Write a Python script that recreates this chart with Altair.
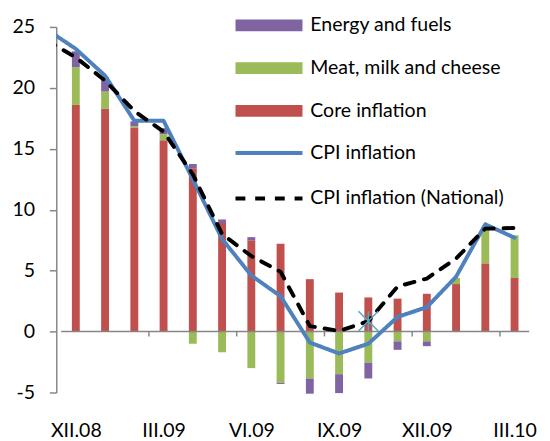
import altair as alt
import pandas as pd

months = ["XII.08", "I.09", "II.09", "III.09", "IV.09", "V.09", "VI.09", "VII.09",
          "VIII.09", "IX.09", "X.09", "XI.09", "XII.09", "I.10", "II.10", "III.10"]
core = [18.6, 18.3, 16.7, 15.7, 13.4, 8.9, 7.5, 7.2, 4.3, 3.2, 2.8, 2.7, 3.1, 3.9, 5.6, 4.4]
meat = [3.1, 1.4, 0.15, 0.5, -1.0, -1.7, -3.0, -4.2, -3.85, -3.5, -2.55, -0.8, -0.8, 0.5, 2.7, 3.5]
energy = [1.3, 1.2, 0.4, 0.5, 0.35, 0.3, 0.25, -0.1, -1.25, -1.55, -1.3, -0.7, -0.4, 0.0, 0.3, 0.0]

# line series start one month earlier (XI.08) and are clipped at the left edge
line_months = ["XI.08"] + months
cpi = [24.8, 23.2, 21.0, 17.3, 17.3, 12.5, 7.6, 4.6, 2.9, -0.9, -1.8, -1.0, 1.2, 2.0, 4.5, 8.8, 7.7]
national = [23.9, 22.5, 20.6, 18.1, 16.4, 12.9, 8.0, 6.2, 4.9, 0.45, 0.05, 0.85, 3.7, 4.35, 6.0, 8.45, 8.5]

marker_month = "X.09"
marker_value = 0.86

bar_names = ["Energy and fuels", "Meat, milk and cheese", "Core inflation"]
bar_colors = ["#8064A2", "#9BBB59", "#C0504D"]
line_names = ["CPI inflation", "CPI inflation (National)"]
line_colors = ["#4F81BD", "#000000"]

y_ticks = [-5, 0, 5, 10, 15, 20, 25]
x_label_idx = [0, 3, 6, 9, 12, 15]
x_tick_pos = [2.5, 5.5, 8.5, 11.5, 14.5]

W, H = 485, 371
YMIN, YMAX = -5, 25
XMIN, XMAX = -0.5, len(months) - 0.5
TICK_LEN = 0.4  # category-axis tick length, in y units (about 5 px)
FONT = "Lato"
FS = 19.8
AXIS_GRAY = "#868686"

rows = []
for i, m in enumerate(months):
    rows.append({"idx": i, "month": m, "component": "Core inflation", "value": core[i], "ord": 0})
    rows.append({"idx": i, "month": m, "component": "Meat, milk and cheese", "value": meat[i], "ord": 1})
    rows.append({"idx": i, "month": m, "component": "Energy and fuels", "value": energy[i], "ord": 2})
bar_df = pd.DataFrame(rows)

lrows = []
for j, m in enumerate(line_months):
    lrows.append({"idx": j - 1, "month": m, "series": "CPI inflation", "value": cpi[j]})
    lrows.append({"idx": j - 1, "month": m, "series": "CPI inflation (National)", "value": national[j]})
line_df = pd.DataFrame(lrows)

mark_df = pd.DataFrame({"idx": [months.index(marker_month)], "value": [marker_value]})
zero_df = pd.DataFrame({"idx": [XMIN], "idx2": [XMAX], "value": [0]})
tick_df = pd.DataFrame({"idx": x_tick_pos, "value": [0] * len(x_tick_pos),
                        "value2": [-TICK_LEN] * len(x_tick_pos)})

xscale = alt.Scale(domain=[XMIN, XMAX], nice=False, zero=False)
yscale = alt.Scale(domain=[YMIN, YMAX], nice=False, zero=False)

label_expr = "[" + ",".join("'%s'" % m for m in months) + "][datum.value]"

x_axis = alt.Axis(values=x_label_idx, labelExpr=label_expr, domain=False, ticks=False,
                  tickSize=0, grid=False, title=None, orient="bottom",
                  labelPadding=29, labelFont=FONT, labelFontSize=FS, labelColor="#000000")
y_axis = alt.Axis(values=y_ticks, labelExpr="datum.value + ''", title=None, grid=False,
                  domainColor=AXIS_GRAY, domainWidth=1.5, tickColor=AXIS_GRAY, tickWidth=1.5,
                  tickSize=7, labelPadding=15, labelFont=FONT, labelFontSize=FS,
                  labelColor="#000000")

X = alt.X("idx:Q", scale=xscale, axis=x_axis)
Y = alt.Y("value:Q", scale=yscale, axis=y_axis)

bar_sym = "M-5.667,-1H5.667V1H-5.667Z"
line_sym = "M-5.667,0H5.667"

LX = 206
bars = alt.Chart(bar_df).mark_bar(size=8).encode(
    x=X,
    y=alt.Y("value:Q", scale=yscale, axis=y_axis, stack="zero"),
    color=alt.Color("component:N",
                    scale=alt.Scale(domain=bar_names, range=bar_colors),
                    legend=alt.Legend(title=None, orient="none", legendX=LX, legendY=-11.5,
                                      symbolType=bar_sym, symbolSize=144, symbolStrokeWidth=0,
                                      symbolOpacity=1, labelOffset=32, rowPadding=22.4,
                                      padding=0, labelLimit=400, labelFont=FONT,
                                      labelFontSize=FS, labelColor="#000000")),
    order=alt.Order("ord:Q"),
)

# category axis line crossing at zero, with its tick marks
zero_line = alt.Chart(zero_df).mark_rule(stroke=AXIS_GRAY, strokeWidth=1.5, opacity=1).encode(
    x=X, x2=alt.X2("idx2:Q"), y=Y)
zero_ticks = alt.Chart(tick_df).mark_rule(stroke=AXIS_GRAY, strokeWidth=1.5, opacity=1).encode(
    x=X, y=Y, y2=alt.Y2("value2:Q"))

line_legend = alt.Legend(title=None, orient="none", legendX=LX, legendY=118,
                         symbolType=line_sym, symbolSize=144, symbolStrokeWidth=4,
                         symbolFillColor="transparent", labelOffset=32, rowPadding=25.2,
                         padding=0, labelLimit=400, labelFont=FONT, labelFontSize=FS,
                         labelColor="#000000")

lines = alt.Chart(line_df).mark_line(clip=True, strokeWidth=4, strokeCap="round",
                                     strokeJoin="round").encode(
    x=X,
    y=Y,
    stroke=alt.Stroke("series:N", scale=alt.Scale(domain=line_names, range=line_colors),
                      legend=line_legend),
    strokeDash=alt.StrokeDash("series:N",
                              scale=alt.Scale(domain=line_names, range=[[1, 0], [10, 10]]),
                              legend=line_legend),
)

star = alt.Chart(mark_df).mark_point(
    shape="M0,-1V1M-1,-1L1,1M-1,1L1,-1", size=400, filled=False, strokeWidth=1.5,
    color="#4BACC6", opacity=1).encode(x=X, y=Y)

chart = alt.layer(bars, zero_line, zero_ticks, lines, star).properties(
    width=W, height=H, autosize="none",
    padding={"left": 49, "top": 16, "right": 8, "bottom": 46},
).configure_view(stroke=None)

chart.save("out.html", embed_options={"renderer": "svg", "actions": False})
